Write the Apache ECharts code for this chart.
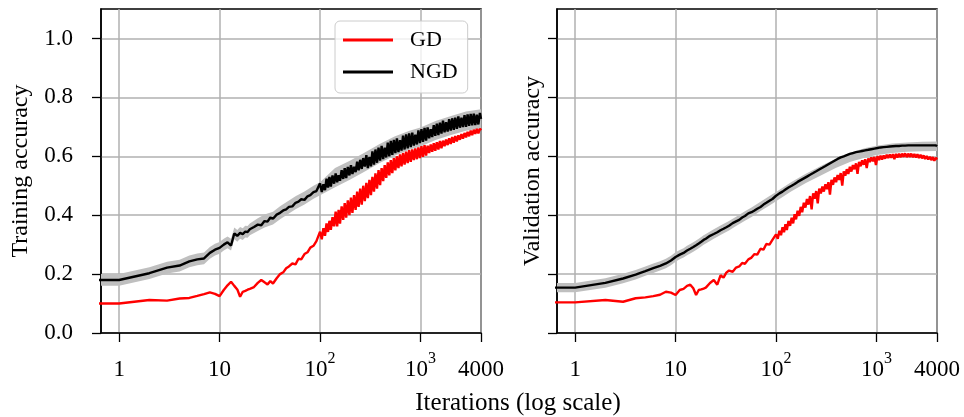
<!DOCTYPE html>
<html><head><meta charset="utf-8">
<script src="https://cdn.jsdelivr.net/npm/echarts@6/dist/echarts.min.js"></script>
<style>html,body{margin:0;padding:0;background:#fff}#c{width:964px;height:417px}</style>
</head><body><div id="c"></div>
<script>
const iterations = [0.5,
1,2,3,4,5,6,7,8,9,10,
11,12,13,14,15,16,17,18,19,20,
22,24,26,28,30,32,34,37,40,43,
46,49,53,57,61,65,70,75,80,86,
92,
100,104,108,112,116,120,124,128,133,138,
143,148,153,158,164,170,176,182,189,196,
203,210,218,226,234,242,251,260,269,279,
289,299,310,321,332,344,356,369,382,396,
410,425,440,456,472,489,506,524,543,562,
582,603,625,647,670,694,719,745,771,799,
828,857,888,920,953,987,1022,1059,1097,1136,
1177,1219,1263,1308,1355,1403,1454,1506,1560,1616,
1674,1734,1796,1861,1927,1997,2068,2142,2219,2299,
2381,2467,2555,2647,2742,2840,2942,3048,3157,3270,
3388,3509,3635,3766,3901,4000];

const trainGD = [0.100,
0.100,0.112,0.110,0.117,0.119,0.126,0.132,0.138,0.133,0.125,
0.146,0.162,0.174,0.160,0.148,0.123,0.140,0.143,0.147,0.150,
0.156,0.170,0.180,0.172,0.165,0.176,0.168,0.186,0.200,0.206,
0.220,0.226,0.236,0.233,0.252,0.250,0.268,0.274,0.290,0.296,
0.312,
0.344,0.318,0.356,0.330,0.372,0.343,0.381,0.350,0.393,0.362,
0.412,0.362,0.418,0.371,0.430,0.384,0.441,0.392,0.450,0.400,
0.460,0.408,0.468,0.418,0.480,0.428,0.490,0.436,0.500,0.448,
0.510,0.458,0.520,0.468,0.530,0.480,0.542,0.490,0.553,0.502,
0.560,0.516,0.570,0.527,0.579,0.535,0.587,0.543,0.594,0.552,
0.600,0.560,0.606,0.566,0.611,0.572,0.616,0.577,0.621,0.581,
0.623,0.587,0.627,0.590,0.630,0.594,0.634,0.598,0.638,0.602,
0.636,0.611,0.640,0.615,0.644,0.619,0.648,0.623,0.652,0.627,
0.653,0.634,0.657,0.638,0.661,0.642,0.665,0.646,0.669,0.650,
0.671,0.656,0.675,0.660,0.679,0.664,0.683,0.668,0.687,0.672,
0.690,0.676,0.693,0.678,0.694,0.688];

const trainNGD = [0.180,
0.180,0.203,0.222,0.229,0.243,0.250,0.253,0.272,0.283,0.289,
0.300,0.308,0.297,0.338,0.330,0.340,0.336,0.344,0.343,0.352,
0.360,0.368,0.366,0.380,0.378,0.392,0.388,0.402,0.408,0.416,
0.420,0.428,0.430,0.442,0.446,0.454,0.452,0.464,0.468,0.478,
0.482,
0.508,0.479,0.505,0.485,0.524,0.494,0.530,0.497,0.535,0.507,
0.542,0.512,0.536,0.517,0.553,0.523,0.560,0.526,0.564,0.535,
0.570,0.540,0.564,0.546,0.582,0.552,0.588,0.557,0.594,0.565,
0.604,0.560,0.598,0.566,0.617,0.572,0.623,0.578,0.629,0.585,
0.635,0.590,0.629,0.596,0.646,0.600,0.652,0.605,0.656,0.611,
0.661,0.614,0.655,0.619,0.670,0.623,0.674,0.627,0.678,0.631,
0.680,0.636,0.673,0.640,0.688,0.645,0.692,0.649,0.696,0.653,
0.698,0.661,0.692,0.665,0.706,0.669,0.711,0.672,0.714,0.677,
0.721,0.681,0.716,0.684,0.726,0.687,0.729,0.690,0.731,0.693,
0.735,0.697,0.731,0.699,0.740,0.700,0.742,0.703,0.744,0.705,
0.745,0.706,0.741,0.708,0.747,0.727];

const valGD = [0.104,
0.104,0.112,0.106,0.118,0.121,0.125,0.130,0.140,0.137,0.129,
0.146,0.150,0.160,0.164,0.152,0.129,0.146,0.148,0.151,0.154,
0.170,0.180,0.164,0.196,0.188,0.205,0.212,0.208,0.222,0.226,
0.238,0.235,0.250,0.256,0.268,0.266,0.286,0.283,0.302,0.300,
0.316,
0.335,0.320,0.347,0.332,0.359,0.342,0.369,0.350,0.380,0.364,
0.391,0.372,0.403,0.386,0.415,0.398,0.428,0.410,0.442,0.426,
0.455,0.436,0.465,0.420,0.474,0.456,0.482,0.440,0.490,0.474,
0.497,0.480,0.505,0.488,0.512,0.470,0.520,0.503,0.528,0.512,
0.536,0.520,0.543,0.500,0.549,0.534,0.556,0.540,0.564,0.548,
0.570,0.556,0.576,0.540,0.581,0.566,0.586,0.571,0.590,0.560,
0.593,0.580,0.596,0.583,0.598,0.570,0.600,0.587,0.602,0.589,
0.603,0.592,0.605,0.594,0.606,0.595,0.607,0.590,0.608,0.596,
0.609,0.597,0.609,0.598,0.610,0.597,0.609,0.598,0.609,0.597,
0.608,0.596,0.607,0.594,0.605,0.593,0.603,0.591,0.601,0.589,
0.598,0.587,0.597,0.585,0.595,0.589];

const valNGD = [0.154,
0.154,0.170,0.185,0.198,0.210,0.220,0.228,0.236,0.246,0.258,
0.266,0.272,0.280,0.286,0.292,0.298,0.304,0.310,0.316,0.320,
0.330,0.336,0.342,0.349,0.354,0.359,0.364,0.373,0.379,0.384,
0.392,0.397,0.406,0.410,0.416,0.422,0.428,0.436,0.442,0.449,
0.455,
0.466,0.464,0.474,0.471,0.480,0.478,0.487,0.484,0.494,0.491,
0.500,0.497,0.506,0.503,0.513,0.510,0.519,0.516,0.525,0.522,
0.531,0.528,0.537,0.534,0.543,0.540,0.549,0.546,0.555,0.552,
0.561,0.558,0.567,0.564,0.573,0.570,0.579,0.576,0.585,0.582,
0.591,0.587,0.596,0.592,0.600,0.596,0.604,0.600,0.608,0.604,
0.611,0.606,0.614,0.609,0.616,0.611,0.618,0.613,0.620,0.615,
0.622,0.617,0.624,0.619,0.626,0.621,0.628,0.623,0.630,0.624,
0.631,0.625,0.632,0.626,0.633,0.627,0.634,0.628,0.635,0.629,
0.635,0.629,0.636,0.630,0.636,0.630,0.637,0.631,0.637,0.631,
0.637,0.631,0.637,0.631,0.637,0.631,0.637,0.631,0.637,0.631,
0.637,0.631,0.637,0.631,0.637,0.634];

const bandIterations = [0.5,1,2,3,4,5,6,7,8,9,10,11,12,13,14,15,16,17,18,19,20,24,28,34,40,49,57,70,86,100,141,198,279,392,551,776,1000,1432,2015,2835,4000];
const trainNGDlo = [.160,.160,.183,.202,.209,.223,.230,.233,.252,.263,.269,.280,.288,.280,.318,.310,.320,.316,.324,.323,.332,.346,.358,.368,.386,.406,.420,.436,.456,.468,.495,.520,.548,.577,.602,.622,.633,.656,.672,.687,.695];
const trainNGDhi = [.200,.200,.223,.242,.249,.263,.270,.273,.292,.303,.309,.320,.328,.320,.358,.350,.360,.356,.364,.363,.372,.390,.402,.412,.430,.450,.464,.480,.500,.512,.560,.585,.613,.642,.667,.687,.698,.721,.737,.752,.760];
const valNGDlo = [.138,.138,.154,.169,.182,.194,.204,.212,.220,.230,.242,.250,.256,.264,.270,.276,.282,.288,.294,.300,.304,.320,.333,.348,.363,.381,.394,.414,.433,.447,.480,.509,.535,.560,.581,.596,.604,.611,.615,.617,.618];
const valNGDhi = [.170,.170,.186,.201,.214,.226,.236,.244,.252,.262,.274,.282,.288,.296,.302,.308,.314,.320,.326,.332,.336,.352,.365,.380,.395,.413,.426,.446,.465,.479,.512,.541,.567,.592,.613,.628,.636,.643,.647,.649,.650];

const xTicks = [1, 10, 100, 1000, 4000];
const yTicks = [0, 0.2, 0.4, 0.6, 0.8, 1.0];

const FONT = 'Liberation Serif';
const RED = '#ff0000', BLACK = '#000000', BAND = '#bfbfbf', GRIDC = '#b0b0b0';

function pairs(xs, ys) { return xs.map((x, i) => [x, ys[i]]); }

function fmtX(v) {
  const n = Math.round(v);
  if (n === 100) return '{n|10}{s|2}';
  if (n === 1000) return '{n|10}{s|3}';
  return '{n|' + n + '}';
}

function xAxisCfg(gi) {
  return {
    type: 'log', logBase: 10, gridIndex: gi, min: 0.66, max: 4000,
    axisLine: { show: true, onZero: false, lineStyle: { color: '#000', width: 1.5 } },
    axisTick: { show: true, inside: false, length: 9, customValues: xTicks, lineStyle: { color: '#000', width: 1.3 } },
    axisLabel: {
      show: true, margin: 18, customValues: xTicks, formatter: fmtX, color: '#000',
      rich: {
        n: { fontFamily: FONT, fontSize: 23, color: '#000', lineHeight: 30, verticalAlign: 'bottom' },
        s: { fontFamily: FONT, fontSize: 16, color: '#000', lineHeight: 16, verticalAlign: 'top' }
      }
    },
    splitLine: { show: true, lineStyle: { color: GRIDC, width: 1.5 } },
    minorTick: { show: false }, minorSplitLine: { show: false }
  };
}
function yAxisCfg(gi, name, gap) {
  return {
    type: 'value', gridIndex: gi, min: 0, max: 1.1, interval: 0.2,
    axisLine: { show: true, lineStyle: { color: '#000', width: 1.5 } },
    axisTick: { show: true, inside: false, length: 9, customValues: yTicks, lineStyle: { color: '#000', width: 1.3 } },
    axisLabel: { show: gi === 0, margin: 28, customValues: yTicks, formatter: v => v.toFixed(1),
      fontFamily: FONT, fontSize: 23, color: '#000' },
    splitLine: { show: true, lineStyle: { color: GRIDC, width: 1.5 } },
    name: name, nameLocation: 'middle', nameGap: gap, nameRotate: 90,
    nameTextStyle: { fontFamily: FONT, fontSize: 24, color: '#000' }
  };
}

function bandSeries(gi, lo, hi) {
  return {
    type: 'custom', xAxisIndex: gi, yAxisIndex: gi, silent: true, z: 1,
    data: bandIterations.map((x, i) => [x, lo[i], hi[i]]),
    encode: { x: 0, y: [1, 2] },
    renderItem: function (params, api) {
      if (params.dataIndex !== 0) return null;
      const up = [], dn = [];
      for (let i = 0; i < bandIterations.length; i++) {
        up.push(api.coord([bandIterations[i], hi[i]]));
        dn.push(api.coord([bandIterations[i], lo[i]]));
      }
      const cs = params.coordSys;
      return {
        type: 'polygon', shape: { points: up.concat(dn.reverse()) }, style: { fill: BAND },
        clipPath: { type: 'rect', shape: { x: cs.x, y: cs.y, width: cs.width, height: cs.height } }
      };
    }
  };
}
function lineSeries(gi, name, ys, color, z) {
  return { name: name, type: 'line', xAxisIndex: gi, yAxisIndex: gi, data: pairs(iterations, ys),
    symbol: 'none', showSymbol: false, clip: true, lineStyle: { color: color, width: 2.4 }, itemStyle: { color: color }, z: z };
}

const chart = echarts.init(document.getElementById('c'), null, { renderer: 'canvas' });
chart.setOption({
  animation: false,
  backgroundColor: '#ffffff',
  grid: [
    { left: 101, top: 9, width: 380, height: 324, show: true, borderColor: '#000', borderWidth: 1.5, backgroundColor: '#fff' },
    { left: 557, top: 9, width: 380, height: 324, show: true, borderColor: '#000', borderWidth: 1.5, backgroundColor: '#fff' }
  ],
  xAxis: [xAxisCfg(0), xAxisCfg(1)],
  yAxis: [yAxisCfg(0, 'Training accuracy', 68), yAxisCfg(1, 'Validation accuracy', 12)],
  legend: {
    show: true, left: 335, top: 21, orient: 'vertical', selectedMode: false,
    data: [{ name: 'GD', icon: 'rect', itemStyle: { color: RED } }, { name: 'NGD', icon: 'rect', itemStyle: { color: BLACK } }],
    itemWidth: 50, itemHeight: 3, itemGap: 10, padding: [8, 10, 10, 8],
    textStyle: { fontFamily: FONT, fontSize: 22, color: '#000', padding: [0, 0, 0, 12] },
    backgroundColor: 'rgba(255,255,255,0.8)', borderColor: '#cccccc', borderWidth: 1, borderRadius: 5
  },
  graphic: [{
    type: 'text', x: 518, y: 403,
    style: { text: 'Iterations (log scale)', fontFamily: FONT, fontSize: 25, fill: '#000', align: 'center', verticalAlign: 'middle' }
  }],
  series: [
    bandSeries(0, trainNGDlo, trainNGDhi),
    lineSeries(0, 'GD', trainGD, RED, 3), lineSeries(0, 'NGD', trainNGD, BLACK, 4),
    bandSeries(1, valNGDlo, valNGDhi),
    lineSeries(1, 'GD', valGD, RED, 3), lineSeries(1, 'NGD', valNGD, BLACK, 4)
  ]
});
</script>
</body></html>
